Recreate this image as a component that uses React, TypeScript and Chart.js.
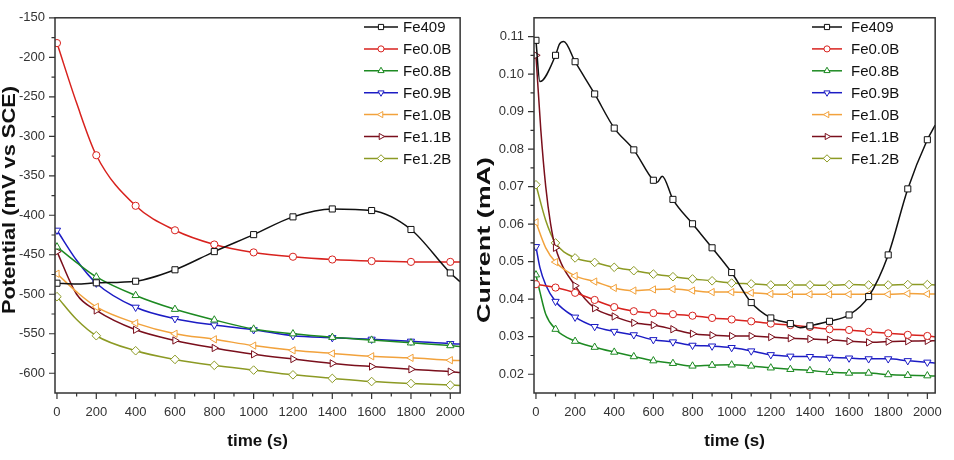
import React, { useEffect, useRef } from 'react';
import { Chart, registerables } from 'chart.js';

Chart.register(...registerables);
Chart.defaults.font.family = '"Liberation Sans", Arial, sans-serif';

// ---------- shared series info ----------
const NAMES = ['Fe409', 'Fe0.0B', 'Fe0.8B', 'Fe0.9B', 'Fe1.0B', 'Fe1.1B', 'Fe1.2B'];
const COLORS = ['#111111', '#d8221e', '#1d8a22', '#1c1cc4', '#f2a23c', '#7a0f1c', '#8c9a24'];
const STYLES = ['rect', 'circle', 'triangle', 'triangle', 'triangle', 'triangle', 'rectRot'];
const ROTATIONS = [0, 0, 0, 180, 270, 90, 0];
const RADII = [4.3, 3.6, 4.2, 4.2, 4.2, 4.2, 4.3];

// ---------- left panel: Potential (mV vs SCE) ----------
const POT_T = [0, 100, 200, 400, 600, 800, 1000, 1200, 1400, 1600, 1800, 2000, 2050];
const POT_FE409 = [-486, -487, -485.5, -483.5, -469, -446, -424.5, -402, -392, -394, -418, -473, -484];
const POT_FE00B = [-182, -258, -324, -388, -419, -437, -447, -452.5, -456, -458, -459, -459, -459];
const POT_FE08B = [-440, -460, -478, -501.5, -519, -532.5, -544, -550, -554.5, -558, -561.5, -565, -566];
const POT_FE09B = [-419, -457, -486, -516.5, -531, -539, -545, -552.5, -555, -557, -559.5, -562.5, -563];
const POT_FE10B = [-474, -497, -516, -536.5, -550, -557, -565, -571, -575, -578.5, -580.5, -583.5, -584];
const POT_FE11B = [-446, -500, -520.5, -545, -558.5, -568, -576, -582, -587.5, -591.5, -595, -598, -599];
const POT_FE12B = [-503, -532, -552.5, -571.5, -582.5, -590, -596, -602, -606.5, -610.5, -613, -615, -615.5];
const POT_X_TICKS = [0, 200, 400, 600, 800, 1000, 1200, 1400, 1600, 1800, 2000];
const POT_X_MINOR = [100, 300, 500, 700, 900, 1100, 1300, 1500, 1700, 1900];
const POT_Y_TICKS = [-600, -550, -500, -450, -400, -350, -300, -250, -200, -150];
const POT_Y_MINOR = [-575, -525, -475, -425, -375, -325, -275, -225, -175];

// ---------- right panel: Current (mA) ----------
const CUR_T = [0, 100, 200, 300, 400, 500, 600, 700, 800, 900, 1000, 1100, 1200, 1300, 1400, 1500, 1600, 1700, 1800, 1900, 2000, 2040];
const CUR_FE409_T = [0, 20, 100, 120, 142, 200, 300, 400, 500, 600, 620, 645, 700, 800, 900, 1000, 1100, 1200, 1300, 1350, 1400, 1500, 1600, 1700, 1800, 1900, 2000, 2040];
const CUR_FE409 = [0.109, 0.098, 0.105, 0.108, 0.1087, 0.1033, 0.0947, 0.0856, 0.0798, 0.0717, 0.0712, 0.0728, 0.0666, 0.0601, 0.0537, 0.0471, 0.0391, 0.035, 0.0335, 0.0324, 0.0329, 0.0341, 0.0358, 0.0407, 0.0518, 0.0694, 0.0825, 0.0864];
const CUR_FE00B = [0.044, 0.0431, 0.0417, 0.0398, 0.0379, 0.0368, 0.0363, 0.036, 0.0356, 0.035, 0.0346, 0.0341, 0.0335, 0.0331, 0.0326, 0.032, 0.0318, 0.0313, 0.0309, 0.0305, 0.0302, 0.03];
const CUR_FE08B = [0.0465, 0.032, 0.0288, 0.0272, 0.0259, 0.0247, 0.0236, 0.0229, 0.0222, 0.0224, 0.0225, 0.0222, 0.0217, 0.0213, 0.021, 0.0205, 0.0203, 0.0203, 0.0199, 0.0197, 0.0196, 0.0195];
const CUR_FE08B_EARLY_T = [20, 50];
const CUR_FE08B_EARLY = [0.042, 0.036];
const CUR_FE09B = [0.054, 0.0394, 0.0352, 0.0327, 0.0314, 0.0305, 0.0292, 0.0286, 0.0277, 0.0275, 0.0271, 0.0262, 0.0252, 0.0248, 0.0247, 0.0245, 0.0243, 0.0241, 0.0241, 0.0236, 0.0232, 0.023];
const CUR_FE09B_EARLY_T = [20, 50];
const CUR_FE09B_EARLY = [0.0485, 0.0438];
const CUR_FE10B = [0.0605, 0.0499, 0.0462, 0.0447, 0.043, 0.0423, 0.0426, 0.0427, 0.0423, 0.0419, 0.0419, 0.0417, 0.0414, 0.0413, 0.0413, 0.0413, 0.0413, 0.0413, 0.0413, 0.0415, 0.0414, 0.0414];
const CUR_FE10B_EARLY_T = [50];
const CUR_FE10B_EARLY = [0.0537];
const CUR_FE11B = [0.105, 0.0537, 0.0436, 0.0376, 0.0354, 0.0337, 0.0331, 0.032, 0.0308, 0.0304, 0.0302, 0.0302, 0.0299, 0.0296, 0.0294, 0.0292, 0.0288, 0.0285, 0.0287, 0.0288, 0.0289, 0.0289];
const CUR_FE11B_EARLY_T = [25, 50, 75];
const CUR_FE11B_EARLY = [0.085, 0.07, 0.06];
const CUR_FE12B = [0.0705, 0.055, 0.051, 0.0498, 0.0485, 0.0476, 0.0467, 0.046, 0.0454, 0.0449, 0.0443, 0.0441, 0.0438, 0.0438, 0.0438, 0.0437, 0.0439, 0.0438, 0.0438, 0.0439, 0.0439, 0.0438];
const CUR_FE12B_EARLY_T = [50];
const CUR_FE12B_EARLY = [0.061];
const CUR_X_TICKS = [0, 200, 400, 600, 800, 1000, 1200, 1400, 1600, 1800, 2000];
const CUR_X_MINOR = [100, 300, 500, 700, 900, 1100, 1300, 1500, 1700, 1900];
const CUR_Y_TICKS = [0.02, 0.03, 0.04, 0.05, 0.06, 0.07, 0.08, 0.09, 0.1, 0.11];
const CUR_Y_MINOR = [0.025, 0.035, 0.045, 0.055, 0.065, 0.075, 0.085, 0.095, 0.105];

type Pt = { x: number; y: number };
function pts(t: number[], v: number[], et: number[] = [], ev: number[] = []): Pt[] {
  const a = t.map((x, i) => ({ x, y: v[i] }));
  const b = et.map((x, i) => ({ x, y: ev[i] }));
  return a.concat(b).sort((p, q) => p.x - q.x);
}

interface PanelCfg {
  series: Pt[][];
  xMin: number; xMax: number; yMin: number; yMax: number;
  xTicks: number[]; xMinor: number[]; yTicks: number[]; yMinor: number[];
  every: number;
  yFmt: (v: number) => string;
  axisWidth: number;
  yTitle: string; yTitleCx: number; yTitleCy: number; yTitleLen: number;
  legLine: [number, number]; legMarker: number; legText: number;
}

const POT_CFG: PanelCfg = {
  series: [
    pts(POT_T, POT_FE409), pts(POT_T, POT_FE00B), pts(POT_T, POT_FE08B), pts(POT_T, POT_FE09B),
    pts(POT_T, POT_FE10B), pts(POT_T, POT_FE11B), pts(POT_T, POT_FE12B),
  ],
  xMin: -10, xMax: 2050, yMin: -625, yMax: -150,
  xTicks: POT_X_TICKS, xMinor: POT_X_MINOR, yTicks: POT_Y_TICKS, yMinor: POT_Y_MINOR,
  every: 200,
  yFmt: (v) => String(v),
  axisWidth: 55,
  yTitle: 'Potential (mV vs SCE)', yTitleCx: 9, yTitleCy: 200, yTitleLen: 228,
  legLine: [364, 398], legMarker: 381, legText: 403,
};

const CUR_CFG: PanelCfg = {
  series: [
    pts(CUR_FE409_T, CUR_FE409),
    pts(CUR_T, CUR_FE00B),
    pts(CUR_T, CUR_FE08B, CUR_FE08B_EARLY_T, CUR_FE08B_EARLY),
    pts(CUR_T, CUR_FE09B, CUR_FE09B_EARLY_T, CUR_FE09B_EARLY),
    pts(CUR_T, CUR_FE10B, CUR_FE10B_EARLY_T, CUR_FE10B_EARLY),
    pts(CUR_T, CUR_FE11B, CUR_FE11B_EARLY_T, CUR_FE11B_EARLY),
    pts(CUR_T, CUR_FE12B, CUR_FE12B_EARLY_T, CUR_FE12B_EARLY),
  ],
  xMin: -10, xMax: 2040, yMin: 0.015, yMax: 0.115,
  xTicks: CUR_X_TICKS, xMinor: CUR_X_MINOR, yTicks: CUR_Y_TICKS, yMinor: CUR_Y_MINOR,
  every: 100,
  yFmt: (v) => v.toFixed(2),
  axisWidth: 57,
  yTitle: 'Current (mA)', yTitleCx: 7, yTitleCy: 240, yTitleLen: 166,
  legLine: [335, 365], legMarker: 350, legText: 374,
};

function drawMarker(ctx: CanvasRenderingContext2D, style: string, rot: number, x: number, y: number, r: number) {
  ctx.beginPath();
  if (style === 'circle') {
    ctx.arc(x, y, r, 0, Math.PI * 2);
  } else if (style === 'rect') {
    const s = r * Math.SQRT1_2;
    ctx.rect(x - s, y - s, 2 * s, 2 * s);
  } else if (style === 'rectRot') {
    ctx.moveTo(x, y - r); ctx.lineTo(x + r, y); ctx.lineTo(x, y + r); ctx.lineTo(x - r, y); ctx.closePath();
  } else {
    let a = (rot * Math.PI) / 180;
    ctx.moveTo(x + Math.sin(a) * r, y - Math.cos(a) * r);
    a += (2 * Math.PI) / 3;
    ctx.lineTo(x + Math.sin(a) * r, y - Math.cos(a) * r);
    a += (2 * Math.PI) / 3;
    ctx.lineTo(x + Math.sin(a) * r, y - Math.cos(a) * r);
    ctx.closePath();
  }
  ctx.fillStyle = '#ffffff';
  ctx.fill();
  ctx.stroke();
}

function makeDecor(cfg: PanelCfg) {
  return {
    id: 'decor',
    afterDraw(chart: any) {
      const ctx: CanvasRenderingContext2D = chart.ctx;
      const { left, right, top, bottom } = chart.chartArea;
      const xs = chart.scales.x;
      const ys = chart.scales.y;
      ctx.save();
      // frame
      ctx.strokeStyle = '#333333';
      ctx.lineWidth = 1.5;
      ctx.strokeRect(left, top, right - left, bottom - top);
      // ticks
      ctx.lineWidth = 1.2;
      ctx.beginPath();
      for (const v of cfg.xTicks) { const p = xs.getPixelForValue(v); ctx.moveTo(p, bottom); ctx.lineTo(p, bottom + 6); }
      for (const v of cfg.xMinor) { const p = xs.getPixelForValue(v); ctx.moveTo(p, bottom); ctx.lineTo(p, bottom + 3.5); }
      for (const v of cfg.yTicks) { const p = ys.getPixelForValue(v); ctx.moveTo(left, p); ctx.lineTo(left - 6, p); }
      for (const v of cfg.yMinor) { const p = ys.getPixelForValue(v); ctx.moveTo(left, p); ctx.lineTo(left - 3.5, p); }
      ctx.stroke();
      // legend
      ctx.font = '15px "Liberation Sans", Arial, sans-serif';
      ctx.textBaseline = 'middle';
      ctx.textAlign = 'left';
      for (let i = 0; i < NAMES.length; i++) {
        const y = 27 + i * 21.9;
        ctx.strokeStyle = COLORS[i];
        ctx.lineWidth = 1.5;
        ctx.beginPath();
        ctx.moveTo(cfg.legLine[0], y); ctx.lineTo(cfg.legLine[1], y);
        ctx.stroke();
        ctx.lineWidth = 1;
        drawMarker(ctx, STYLES[i], ROTATIONS[i], cfg.legMarker, y, RADII[i] * 0.85);
        ctx.fillStyle = '#111111';
        ctx.fillText(NAMES[i], cfg.legText, y + 1);
      }
      // x title
      ctx.font = 'bold 17px "Liberation Sans", Arial, sans-serif';
      ctx.textAlign = 'center';
      ctx.fillStyle = '#111111';
      ctx.fillText('time (s)', (left + right) / 2, 441);
      // y title (rotated)
      ctx.font = 'bold 19px "Liberation Sans", Arial, sans-serif';
      const w = ctx.measureText(cfg.yTitle).width;
      ctx.translate(cfg.yTitleCx, cfg.yTitleCy);
      ctx.rotate(-Math.PI / 2);
      ctx.scale(cfg.yTitleLen / w, 1);
      ctx.fillText(cfg.yTitle, 0, 1);
      ctx.restore();
    },
  };
}

function buildConfig(cfg: PanelCfg): any {
  return {
    type: 'line',
    data: {
      datasets: cfg.series.map((data, i) => ({
        label: NAMES[i],
        data,
        borderColor: COLORS[i],
        borderWidth: 1.5,
        pointStyle: STYLES[i],
        pointRotation: ROTATIONS[i],
        pointRadius: (c: any) => (c.raw && c.raw.x % cfg.every === 0 && c.raw.x <= 2000 ? RADII[i] : 0),
        pointBackgroundColor: '#ffffff',
        pointBorderColor: COLORS[i],
        pointBorderWidth: 1,
        cubicInterpolationMode: 'monotone',
        fill: false,
      })),
    },
    options: {
      animation: false,
      responsive: false,
      maintainAspectRatio: false,
      events: [],
      layout: { padding: { top: 10, right: 10, left: 0, bottom: 0 } },
      plugins: { legend: { display: false }, tooltip: { enabled: false } },
      scales: {
        x: {
          type: 'linear',
          min: cfg.xMin,
          max: cfg.xMax,
          afterBuildTicks: (s: any) => { s.ticks = cfg.xTicks.map((value) => ({ value })); },
          afterFit: (s: any) => { s.height = 67; },
          grid: { display: false, drawTicks: false },
          border: { display: false },
          ticks: { padding: 12, color: '#333333', font: { size: 13 }, maxRotation: 0, autoSkip: false, callback: (v: any) => String(Math.round(Number(v))) },
        },
        y: {
          type: 'linear',
          min: cfg.yMin,
          max: cfg.yMax,
          afterBuildTicks: (s: any) => { s.ticks = cfg.yTicks.map((value) => ({ value })); },
          afterFit: (s: any) => { s.width = cfg.axisWidth; },
          grid: { display: false, drawTicks: false },
          border: { display: false },
          ticks: { padding: 10, color: '#333333', font: { size: 13 }, autoSkip: false, callback: (v: any) => cfg.yFmt(Number(v)) },
        },
      },
    },
    plugins: [makeDecor(cfg)],
  };
}

function Panel({ cfg, left }: { cfg: PanelCfg; left: number }) {
  const ref = useRef<HTMLCanvasElement>(null);
  useEffect(() => {
    const chart = new Chart(ref.current as HTMLCanvasElement, buildConfig(cfg));
    return () => chart.destroy();
  }, [cfg]);
  return (
    <canvas
      ref={ref}
      width={477}
      height={460}
      style={{ position: 'absolute', left, top: 0, width: 477, height: 460 }}
    />
  );
}

export default function App() {
  return (
    <div style={{ position: 'fixed', left: 0, top: 0, width: 954, height: 460, background: '#ffffff', overflow: 'hidden' }}>
      <Panel cfg={POT_CFG} left={0} />
      <Panel cfg={CUR_CFG} left={477} />
    </div>
  );
}
